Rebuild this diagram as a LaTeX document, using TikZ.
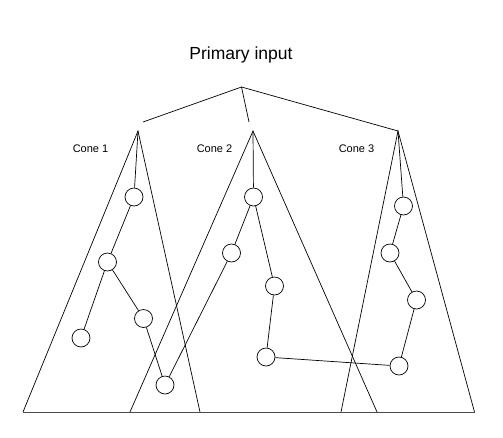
\documentclass[tikz,border=0pt]{standalone}
\usepackage{fontspec}
\setmainfont{Liberation Sans}
\begin{document}
\begin{tikzpicture}[x=1pt,y=-1pt,line width=0.7pt,
  gate/.style={draw,circle,minimum size=18pt,inner sep=0pt},
  conelabel/.style={font=\fontsize{11}{13}\selectfont}]
\useasboundingbox (0,0) rectangle (503,437);

% Apexes and base points
\coordinate (top) at (241.5,87);
\coordinate (inL) at (143,122);
\coordinate (inM) at (249,122);
\coordinate (apex1) at (138,131);
\coordinate (apex2) at (253,131);
\coordinate (apex3) at (398,131);
\coordinate (b1l) at (23,412);
\coordinate (b1r) at (200,412);
\coordinate (b2l) at (130,412);
\coordinate (b2r) at (377,412);
\coordinate (b3l) at (341,412);
\coordinate (b3r) at (474.5,412);

% Writing
\node [font=\fontsize{17.5}{20}\selectfont] (title) at (241,55) {Primary input};
\node [conelabel] (lab1) at (90.5,149) {Cone 1};
\node [conelabel] (lab2) at (214.5,149) {Cone 2};
\node [conelabel] (lab3) at (356.5,149) {Cone 3};

% Primary input fan-out
\draw (inL) -- (top) -- (apex3);
\draw (top) -- (inM);

% Cones
\draw (b1l) -- (apex1) -- (b1r);
\draw (b2l) -- (apex2) -- (b2r);
\draw (b3l) -- (apex3) -- (b3r);
\draw[line width=0.9pt,black!70] (b1l) -- (b3r); % Base

% Gates
\node [gate] (g1a) at (134,197) {};
\node [gate] (g1b) at (107.5,262) {};
\node [gate] (g1c) at (81,338) {};
\node [gate] (g1d) at (143.5,318.5) {};
\node [gate] (g1e) at (165,385) {};
\node [gate] (g2a) at (253.5,197) {};
\node [gate] (g2b) at (231.5,253) {};
\node [gate] (g2c) at (274.5,286) {};
\node [gate] (g2d) at (266,357) {};
\node [gate] (g3a) at (403.5,206) {};
\node [gate] (g3b) at (390,253) {};
\node [gate] (g3c) at (416.5,300) {};
\node [gate] (g3d) at (399,366) {};

% Wires
\draw (apex1) -- (g1a) -- (g1b) -- (g1c);
\draw (g1b) -- (g1d) -- (g1e) -- (g2b) -- (g2a) -- (apex2);
\draw (g2a) -- (g2c) -- (g2d) -- (g3d) -- (g3c) -- (g3b) -- (g3a) -- (apex3);
\end{tikzpicture}
\end{document}
